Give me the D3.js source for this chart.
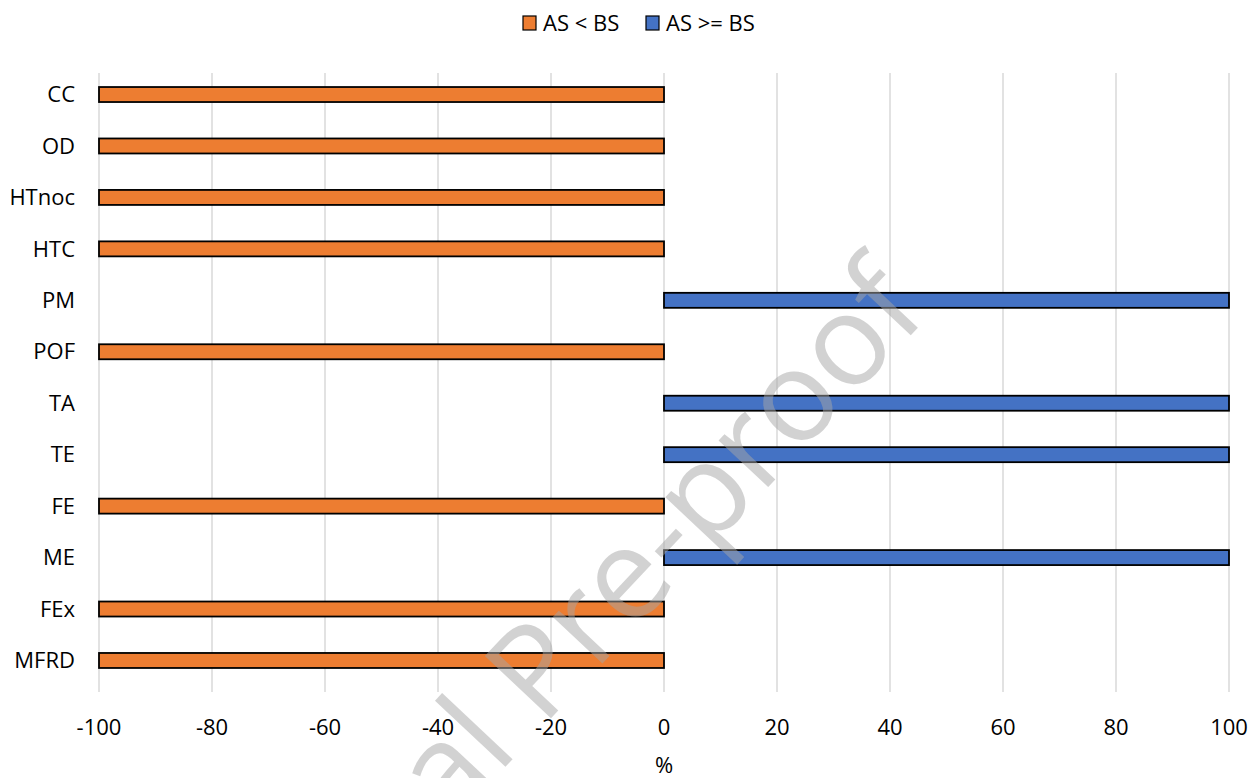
<!DOCTYPE html>
<html>
<head>
<meta charset="utf-8">
<script src="https://cdn.jsdelivr.net/npm/d3@7"></script>
<style>
  html, body { margin: 0; padding: 0; background: #fff; }
  svg { display: block; font-family: "Open Sans", sans-serif; }
</style>
</head>
<body>
<svg id="chart" width="1258" height="778"></svg>
<script>
const categories = ["CC", "OD", "HTnoc", "HTC", "PM", "POF", "TA", "TE", "FE", "ME", "FEx", "MFRD"];
const valuesLess = [-100, -100, -100, -100, null, -100, null, null, -100, null, -100, -100];
const valuesGreater = [null, null, null, null, 100, null, 100, 100, null, 100, null, null];
const xTicks = [-100, -80, -60, -40, -20, 0, 20, 40, 60, 80, 100];
const seriesNames = ["AS < BS", "AS >= BS"];
const seriesColors = ["#ED7D31", "#4472C4"];
const axisTitle = "%";
const watermark = "Journal Pre-proof";

const svg = d3.select("#chart");
const x = d3.scaleLinear().domain([-100, 100]).range([99, 1229]);
const y = d3.scaleBand().domain(categories).range([68.8, 686.2]).paddingInner(0).paddingOuter(0);
const gridTop = 73, gridBottom = 692;

// gridlines
svg.append("g").selectAll("line").data(xTicks).join("line")
  .attr("x1", d => x(d)).attr("x2", d => x(d))
  .attr("y1", gridTop).attr("y2", gridBottom)
  .attr("stroke", "#d9d9d9").attr("stroke-width", 1.5);

// bars
const barH = 15;
const series = [valuesLess, valuesGreater];
series.forEach((vals, si) => {
  const data = categories.map((c, i) => ({c, v: vals[i]})).filter(d => d.v !== null);
  svg.append("g").selectAll("rect").data(data).join("rect")
    .attr("x", d => Math.min(x(0), x(d.v)))
    .attr("width", d => Math.abs(x(d.v) - x(0)))
    .attr("y", d => y(d.c) + y.bandwidth() / 2 - barH / 2)
    .attr("height", barH)
    .attr("fill", seriesColors[si])
    .attr("stroke", "#000").attr("stroke-width", 1.8);
});

// category labels
svg.append("g").selectAll("text").data(categories).join("text")
  .attr("x", 75).attr("y", d => y(d) + y.bandwidth() / 2)
  .attr("dy", "0.35em").attr("text-anchor", "end")
  .attr("font-size", 22).attr("fill", "#000").text(d => d);

// x tick labels
svg.append("g").selectAll("text").data(xTicks).join("text")
  .attr("x", d => x(d)).attr("y", 727).attr("dy", "0.35em")
  .attr("text-anchor", "middle").attr("font-size", 22).attr("fill", "#000")
  .text(d => d);

// axis title
svg.append("text").attr("x", x(0)).attr("y", 765).attr("dy", "0.35em")
  .attr("text-anchor", "middle").attr("font-size", 22).attr("fill", "#000").text(axisTitle);

// legend
const legendX = [523, 646];
seriesNames.forEach((n, i) => {
  svg.append("rect").attr("x", legendX[i]).attr("y", 16).attr("width", 13).attr("height", 14)
    .attr("fill", seriesColors[i]).attr("stroke", "#000").attr("stroke-width", 1.2);
  svg.append("text").attr("x", legendX[i] + 20).attr("y", 23).attr("dy", "0.35em")
    .attr("font-size", 22).attr("fill", "#000").text(n);
});

// watermark: anchor the "l" of Journal and the "f" of proof to where they sit in the reference
const wm = svg.append("text")
  .attr("x", 0).attr("y", 0)
  .attr("font-size", 127).attr("fill", "#a6a6a6").attr("fill-opacity", 0.5)
  .text(watermark);
const node = wm.node();
const iL = watermark.indexOf("l"), iF = watermark.lastIndexOf("f");
const eL = node.getExtentOfChar(iL), eF = node.getExtentOfChar(iF);
const pL = [eL.x + eL.width * 0.5, 0], pF = [eF.x + eF.width * 0.4, 0];
const tL = [509, 763], tF = [913, 333];
const ang = Math.atan2(tF[1] - tL[1], tF[0] - tL[0]);
const scale = Math.hypot(tF[0] - tL[0], tF[1] - tL[1]) / (pF[0] - pL[0]);
wm.attr("font-size", 127 * scale);
const dx = tL[0] - pL[0] * scale * Math.cos(ang);
const dy = tL[1] - pL[0] * scale * Math.sin(ang);
wm.attr("transform", `translate(${dx},${dy}) rotate(${ang * 180 / Math.PI})`);
</script>
</body>
</html>
